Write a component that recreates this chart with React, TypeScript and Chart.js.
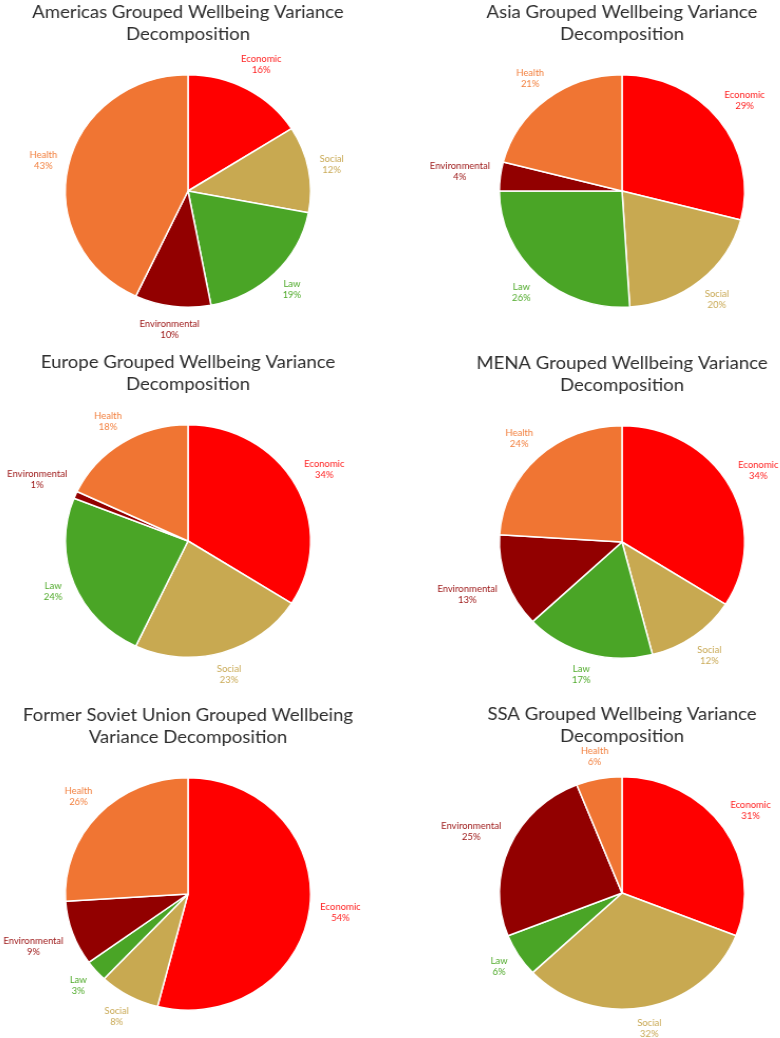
import React, { useEffect, useRef } from "react";
import { Chart, registerables } from "chart.js";

Chart.register(...registerables);

// ---- Data ----
const categories = ["Economic", "Social", "Law", "Environmental", "Health"];
const americasValues = [16, 12, 19, 10, 43];
const asiaValues = [29, 20, 26, 4, 21];
const europeValues = [34, 23, 24, 1, 18];
const menaValues = [34, 12, 17, 13, 24];
const fsuValues = [54, 8, 3, 9, 26];
const ssaValues = [31, 32, 6, 25, 6];

const americasTitle = ["Americas Grouped Wellbeing Variance", "Decomposition"];
const asiaTitle = ["Asia Grouped Wellbeing Variance", "Decomposition"];
const europeTitle = ["Europe Grouped Wellbeing Variance", "Decomposition"];
const menaTitle = ["MENA Grouped Wellbeing Variance", "Decomposition"];
const fsuTitle = ["Former Soviet Union Grouped Wellbeing", "Variance Decomposition"];
const ssaTitle = ["SSA Grouped Wellbeing Variance", "Decomposition"];

// ---- Styles ----
const sliceColors = ["#FF0000", "#C8A951", "#4AA526", "#920000", "#F07533"];
const labelColors = ["#FF1F1F", "#C9A955", "#4FAA2A", "#9B1414", "#F2803F"];
const FONT = "Lato, 'Open Sans', sans-serif";

const panels = [
  { title: americasTitle, values: americasValues, left: -2, top: 1 },
  { title: asiaTitle, values: asiaValues, left: 431.5, top: 1 },
  { title: europeTitle, values: europeValues, left: -2, top: 351 },
  { title: menaTitle, values: menaValues, left: 431.5, top: 352 },
  { title: fsuTitle, values: fsuValues, left: -2, top: 704 },
  { title: ssaTitle, values: ssaValues, left: 431.5, top: 703 },
];

const W = 380;
const H = 345;

const outsideLabels = {
  id: "outsideLabels",
  afterDatasetsDraw(chart: any) {
    const ctx = chart.ctx;
    const meta = chart.getDatasetMeta(0);
    const ds = chart.data.datasets[0];
    ctx.save();
    ctx.font = `9px ${FONT}`;
    ctx.textAlign = "center";
    ctx.textBaseline = "middle";
    meta.data.forEach((arc: any, i: number) => {
      const { x, y, startAngle, endAngle, outerRadius } = arc.getProps(
        ["x", "y", "startAngle", "endAngle", "outerRadius"],
        true
      );
      const mid = (startAngle + endAngle) / 2;
      const line1 = String(chart.data.labels[i]);
      const line2 = ds.data[i] + "%";
      const w = Math.max(ctx.measureText(line1).width, ctx.measureText(line2).width);
      const h = 22;
      const c = Math.cos(mid);
      const s = Math.sin(mid);
      const d = outerRadius + 9 + (Math.abs(c) * w) / 2 + (Math.abs(s) * h) / 2;
      const lx = x + c * d;
      const ly = y + s * d;
      ctx.fillStyle = labelColors[i];
      ctx.fillText(line1, lx, ly - 5.5);
      ctx.fillText(line2, lx, ly + 5.5);
    });
    ctx.restore();
  },
};

function PiePanel({ title, values, left, top }: { title: string[]; values: number[]; left: number; top: number }) {
  const ref = useRef<HTMLCanvasElement | null>(null);
  useEffect(() => {
    if (!ref.current) return;
    const chart = new Chart(ref.current, {
      type: "pie",
      data: {
        labels: categories,
        datasets: [
          {
            data: values,
            backgroundColor: sliceColors,
            borderColor: "#FFFFFF",
            borderWidth: 1.5,
          },
        ],
      },
      options: {
        responsive: false,
        animation: false,
        layout: { padding: { top: 0, bottom: 38, left: 0, right: 0 } },
        plugins: {
          legend: { display: false },
          tooltip: { enabled: false },
          title: {
            display: true,
            text: title,
            color: "#2E2E2E",
            font: { family: FONT, size: 17.6, weight: "normal", lineHeight: 1.25 },
            padding: { top: 0, bottom: 29 },
          },
        },
      },
      plugins: [outsideLabels],
    } as any);
    return () => chart.destroy();
  }, [title, values]);
  return (
    <div
      style={{
        position: "absolute",
        left,
        top,
        width: W,
        height: H,
        transform: "scaleX(1.055)",
        transformOrigin: "50% 50%",
      }}
    >
      <canvas ref={ref} width={W} height={H} />
    </div>
  );
}

export default function App() {
  return (
    <div
      style={{
        position: "absolute",
        left: 0,
        top: 0,
        width: 780,
        height: 1038,
        overflow: "hidden",
        background: "#FFFFFF",
      }}
    >
      {panels.map((p, i) => (
        <PiePanel key={i} title={p.title} values={p.values} left={p.left} top={p.top} />
      ))}
    </div>
  );
}
